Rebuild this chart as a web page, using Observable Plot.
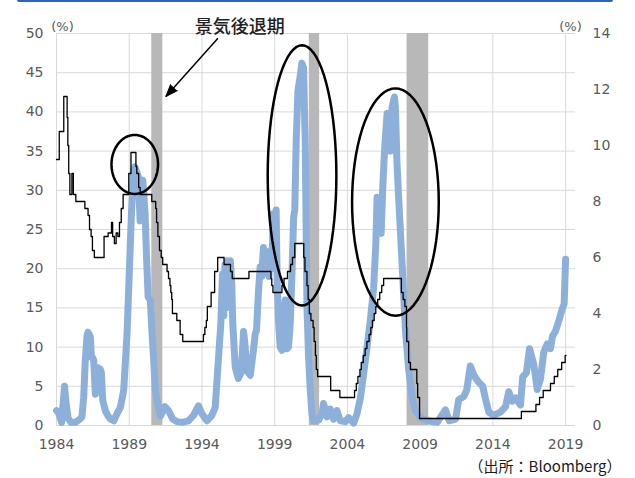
<!DOCTYPE html>
<html>
<head>
<meta charset="utf-8">
<script src="https://cdn.jsdelivr.net/npm/d3@7"></script>
<script src="https://cdn.jsdelivr.net/npm/@observablehq/plot@0.6"></script>
<style>
  body { margin: 0; background: #fff; }
  #wrap { position: relative; width: 635px; height: 478px; }
  #topline { position: absolute; left: 17px; top: 0; width: 596px; height: 2px; background: #2c62c4; border-radius: 0 0 2px 2px; }
  #wrap svg { display: block; }
</style>
</head>
<body>
<div id="wrap"><div id="topline"></div></div>
<script>
// Left-axis series (%), monthly-ish readings by decimal year
const blueX = [
  1984.00, 1984.15, 1984.35, 1984.55, 1984.65, 1984.80, 1985.00, 1985.30, 1985.60, 1985.75,
  1985.87, 1985.98, 1986.10, 1986.17, 1986.33, 1986.40, 1986.50, 1986.56, 1986.67, 1986.72,
  1986.79, 1987.00, 1987.08, 1987.18, 1987.36, 1987.55, 1987.70, 1987.94, 1988.16, 1988.39,
  1988.62, 1988.85, 1989.01, 1989.15, 1989.30, 1989.38, 1989.63, 1989.75, 1989.85, 1989.93,
  1990.09, 1990.20, 1990.30, 1990.45, 1990.57, 1990.68, 1990.80, 1991.03, 1991.15, 1991.45,
  1991.70, 1992.00, 1992.30, 1992.60, 1993.07, 1993.42, 1993.76, 1994.00, 1994.34, 1994.68,
  1994.91, 1995.14, 1995.30, 1995.41, 1995.50, 1995.58, 1995.66, 1995.75, 1995.85, 1995.95,
  1996.05, 1996.12, 1996.29, 1996.50, 1996.70, 1996.86, 1996.95, 1997.09, 1997.32, 1997.54,
  1997.66, 1997.75, 1997.89, 1998.00, 1998.10, 1998.23, 1998.35, 1998.47, 1998.60, 1998.70,
  1998.81, 1998.90, 1999.00, 1999.10, 1999.17, 1999.27, 1999.38, 1999.50, 1999.62, 1999.73,
  1999.84, 1999.95, 2000.07, 2000.19, 2000.30, 2000.38, 2000.48, 2000.60, 2000.75, 2000.87,
  2000.99, 2001.05, 2001.10, 2001.17, 2001.22, 2001.33, 2001.45, 2001.56, 2001.67, 2002.02,
  2002.25, 2002.36, 2002.60, 2002.82, 2003.05, 2003.28, 2003.51, 2003.86, 2004.08, 2004.43,
  2004.66, 2004.89, 2005.11, 2005.35, 2005.58, 2005.80, 2005.95, 2006.04, 2006.20, 2006.32,
  2006.42, 2006.55, 2006.73, 2006.82, 2006.95, 2007.07, 2007.23, 2007.30, 2007.41, 2007.52,
  2007.76, 2007.99, 2008.22, 2008.45, 2008.67, 2009.02, 2009.48, 2010.17, 2010.45, 2010.74,
  2011.00, 2011.43, 2011.65, 2012.00, 2012.20, 2012.45, 2012.69, 2013.03, 2013.30, 2013.49,
  2013.72, 2014.06, 2014.52, 2014.87, 2015.09, 2015.33, 2015.56, 2015.90, 2016.05, 2016.30,
  2016.52, 2016.81, 2017.05, 2017.28, 2017.50, 2017.74, 2017.96, 2018.10, 2018.30, 2018.54,
  2018.77, 2018.90, 2019.00
];
const blueY = [
  1.9, 1.6, 0.4, 5.0, 3.0, 0.9, 0.4, 0.4, 0.8, 1.1,
  3.6, 8.3, 11.5, 11.9, 11.3, 8.7, 8.6, 8.3, 4.0, 7.0,
  7.4, 7.2, 6.8, 3.2, 1.9, 1.2, 0.85, 0.6, 1.5, 2.3,
  4.5, 11.7, 19.8, 27.0, 32.5, 33.0, 31.7, 26.1, 31.0, 31.3,
  27.0, 21.0, 16.4, 16.0, 11.7, 8.3, 4.5, 1.9, 1.2, 2.4,
  1.9, 0.8, 0.5, 0.4, 0.6, 1.3, 2.5, 1.5, 0.6, 1.3,
  2.3, 8.7, 13.0, 19.3, 14.0, 20.5, 15.0, 21.0, 16.0, 21.0,
  18.0, 13.0, 7.4, 6.0, 6.8, 12.0, 10.5, 7.0, 6.4, 9.6,
  11.7, 12.1, 17.2, 20.2, 19.0, 22.7, 19.5, 21.9, 19.0, 22.3,
  20.0, 27.0, 26.0, 27.5, 18.5, 13.0, 10.0, 9.6, 14.3, 16.0,
  9.8, 10.0, 13.0, 19.4, 26.5, 27.5, 36.4, 42.7, 44.5, 46.2,
  45.6, 40.0, 36.4, 23.6, 15.1, 8.7, 4.5, 1.5, 0.6, 0.7,
  1.5, 2.8, 1.1, 2.1, 0.8, 1.9, 0.6, 0.5, 1.0, 0.3,
  1.5, 3.5, 6.5, 10.0, 13.5, 17.5, 23.0, 29.1, 29.0, 24.5,
  30.0, 35.0, 39.8, 38.0, 35.0, 40.6, 41.9, 40.5, 33.4, 29.1,
  20.6, 12.1, 7.0, 3.6, 1.9, 1.0, 0.6, 0.4, 1.2, 2.0,
  0.6, 0.8, 3.3, 3.7, 4.5, 7.6, 6.4, 5.5, 5.0, 3.4,
  1.7, 1.3, 1.7, 2.4, 4.3, 3.1, 3.5, 2.6, 6.2, 6.7,
  9.8, 7.8, 4.6, 6.0, 9.4, 10.4, 9.8, 11.4, 12.0, 13.4,
  14.9, 15.5, 21.2
];

// Policy rate (right axis, %), value in force from each date onward
const fedX = [
  1984.00, 1984.19, 1984.50, 1984.73, 1984.78, 1984.84, 1984.92, 1985.06, 1985.16, 1985.33,
  1985.95, 1986.17, 1986.27, 1986.38, 1986.47, 1986.60, 1987.27, 1987.55, 1987.78, 1987.86,
  1987.98, 1988.10, 1988.22, 1988.33, 1988.45, 1988.58, 1988.97, 1989.12, 1989.46, 1989.52,
  1989.65, 1989.75, 1990.55, 1990.82, 1990.88, 1990.97, 1991.08, 1991.20, 1991.30, 1991.60,
  1991.70, 1991.80, 1991.86, 1991.92, 1991.97, 1992.27, 1992.50, 1992.68, 1994.10, 1994.20,
  1994.30, 1994.37, 1994.63, 1994.87, 1995.08, 1995.52, 1995.96, 1996.08, 1997.23, 1998.74,
  1998.80, 1998.88, 1999.50, 1999.64, 1999.88, 2000.09, 2000.22, 2000.38, 2001.00, 2001.08,
  2001.22, 2001.30, 2001.38, 2001.49, 2001.64, 2001.71, 2001.80, 2001.86, 2001.95, 2002.85,
  2003.48, 2004.49, 2004.61, 2004.72, 2004.86, 2004.95, 2005.09, 2005.22, 2005.34, 2005.49,
  2005.61, 2005.72, 2005.84, 2005.95, 2006.08, 2006.22, 2006.36, 2006.49, 2007.71, 2007.83,
  2007.95, 2008.06, 2008.08, 2008.21, 2008.33, 2008.77, 2008.83, 2008.96, 2015.96, 2016.96,
  2017.21, 2017.46, 2017.96, 2018.22, 2018.46, 2018.73, 2018.97, 2019.02
];
const fedY = [
  9.5, 10.5, 11.75, 11.0, 10.0, 9.0, 8.25, 9.0, 8.25, 8.0,
  7.75, 7.5, 7.0, 6.75, 6.25, 6.0, 6.75, 6.875, 7.25, 6.75,
  6.5, 6.875, 6.75, 7.25, 7.75, 8.25, 9.0, 9.75, 9.25, 9.0,
  8.5, 8.25, 8.0, 7.75, 7.25, 6.75, 6.25, 6.0, 5.75, 5.5,
  5.25, 5.0, 4.75, 4.5, 4.0, 3.75, 3.25, 3.0, 3.25, 3.5,
  3.75, 4.25, 4.75, 5.5, 6.0, 5.75, 5.5, 5.25, 5.5, 5.25,
  5.0, 4.75, 5.0, 5.25, 5.5, 5.75, 6.0, 6.5, 6.0, 5.5,
  5.0, 4.5, 4.0, 3.75, 3.5, 3.0, 2.5, 2.0, 1.75, 1.25,
  1.0, 1.25, 1.5, 1.75, 2.0, 2.25, 2.5, 2.75, 3.0, 3.25,
  3.5, 3.75, 4.0, 4.25, 4.5, 4.75, 5.0, 5.25, 4.75, 4.5,
  4.25, 3.5, 3.0, 2.25, 2.0, 1.5, 1.0, 0.25, 0.5, 0.75,
  1.0, 1.25, 1.5, 1.75, 2.0, 2.25, 2.5, 2.5
];

// Recession periods (decimal years)
const recessionStart = [1990.55, 2001.38, 2008.10];
const recessionEnd   = [1991.31, 2002.09, 2009.59];

// Axis ticks
const yearTicks  = [1984, 1989, 1994, 1999, 2004, 2009, 2014, 2019];
const leftTicks  = [0, 5, 10, 15, 20, 25, 30, 35, 40, 45, 50];
const rightTicks = [0, 2, 4, 6, 8, 10, 12, 14];

// Highlight ellipses (centre and radii in data units: years, left-axis %)
const ellipseCx = [1989.38, 2000.88, 2007.30];
const ellipseCy = [33.3, 31.9, 28.5];
const ellipseRx = [1.60, 2.36, 2.98];
const ellipseRy = [3.76, 16.6, 14.5];

// Callout text and its pointer
const noteLabel = [{text: "景気後退期", x: 1996.6, y: 50.8}];
const notePointer = [{x1: 1995.1, y1: 49.4, x2: 1991.52, y2: 41.96}];

const RIGHT_TO_LEFT = 50 / 14;

const blue = blueX.map((x, i) => ({x, y: blueY[i]}));
const fed = fedX.map((x, i) => ({x, y: fedY[i] * RIGHT_TO_LEFT}));
const recessions = recessionStart.map((s, i) => ({start: s, end: recessionEnd[i]}));
const ellipses = ellipseCx.flatMap((cx, k) =>
  d3.range(0, 73).map(j => {
    const t = (j / 72) * 2 * Math.PI;
    return {id: k, x: cx + ellipseRx[k] * Math.cos(t), y: ellipseCy[k] + ellipseRy[k] * Math.sin(t)};
  })
);

const chart = Plot.plot({
  width: 635,
  height: 478,
  marginTop: 33,
  marginBottom: 53,
  marginLeft: 56,
  marginRight: 60,
  x: {domain: [1984, 2019.68]},
  y: {domain: [0, 50]},
  style: {fontFamily: "'DejaVu Sans', Verdana, sans-serif", fontSize: "14px", color: "#595959", background: "white"},
  marks: [
    Plot.gridY(leftTicks, {stroke: "#d9d9d9", strokeOpacity: 1}),
    Plot.gridX(yearTicks, {stroke: "#d9d9d9", strokeOpacity: 1}),
    Plot.rect(recessions, {x1: "start", x2: "end", fill: "#b8b8b8"}),
    Plot.line(blue, {x: "x", y: "y", stroke: "#8db0db", strokeWidth: 7, strokeLinejoin: "round", strokeLinecap: "round"}),
    Plot.line(fed, {x: "x", y: "y", curve: "step-after", stroke: "#000", strokeWidth: 1.3}),
    Plot.line(ellipses, {x: "x", y: "y", z: "id", stroke: "#000", strokeWidth: 2.5, curve: "linear"}),
    Plot.link(notePointer, {x1: "x1", y1: "y1", x2: "x2", y2: "y2", stroke: "#000", strokeWidth: 1.5}),
    Plot.vector(notePointer, {x: "x2", y: "y2", anchor: "end", shape: "spike", length: 12, r: 4.5, rotate: 222, fill: "#000", stroke: "#000", strokeWidth: 1}),
    Plot.text(noteLabel, {x: "x", y: "y", text: "text", fontFamily: "'Noto Sans CJK JP', sans-serif", fontSize: 18, fontWeight: 500, fill: "#222"}),
    Plot.text(["(%)"], {frameAnchor: "top-left", dx: 6, dy: -12, text: d => d, textAnchor: "middle", fontSize: 13, fill: "#595959"}),
    Plot.text(["(%)"], {frameAnchor: "top-right", dx: -5, dy: -12, text: d => d, textAnchor: "middle", fontSize: 13, fill: "#595959"}),
    Plot.text(["（出所：Bloomberg）"], {frameAnchor: "bottom-right", dx: 46, dy: 46, text: d => d, textAnchor: "end", fontFamily: "'Noto Sans CJK JP', sans-serif", fontSize: 15, fill: "#1a1a1a"}),
    Plot.axisX(yearTicks, {tickSize: 0, tickPadding: 14, tickFormat: d => String(d), label: null, fontSize: 14}),
    Plot.axisY(leftTicks, {anchor: "left", tickSize: 0, tickPadding: 13, label: null, fontSize: 14}),
    Plot.axisY(rightTicks.map(v => v * RIGHT_TO_LEFT), {anchor: "right", tickSize: 0, tickPadding: 17, tickFormat: d => String(Math.round(d / RIGHT_TO_LEFT)), label: null, fontSize: 14})
  ]
});

document.getElementById("wrap").appendChild(chart);
</script>
</body>
</html>
